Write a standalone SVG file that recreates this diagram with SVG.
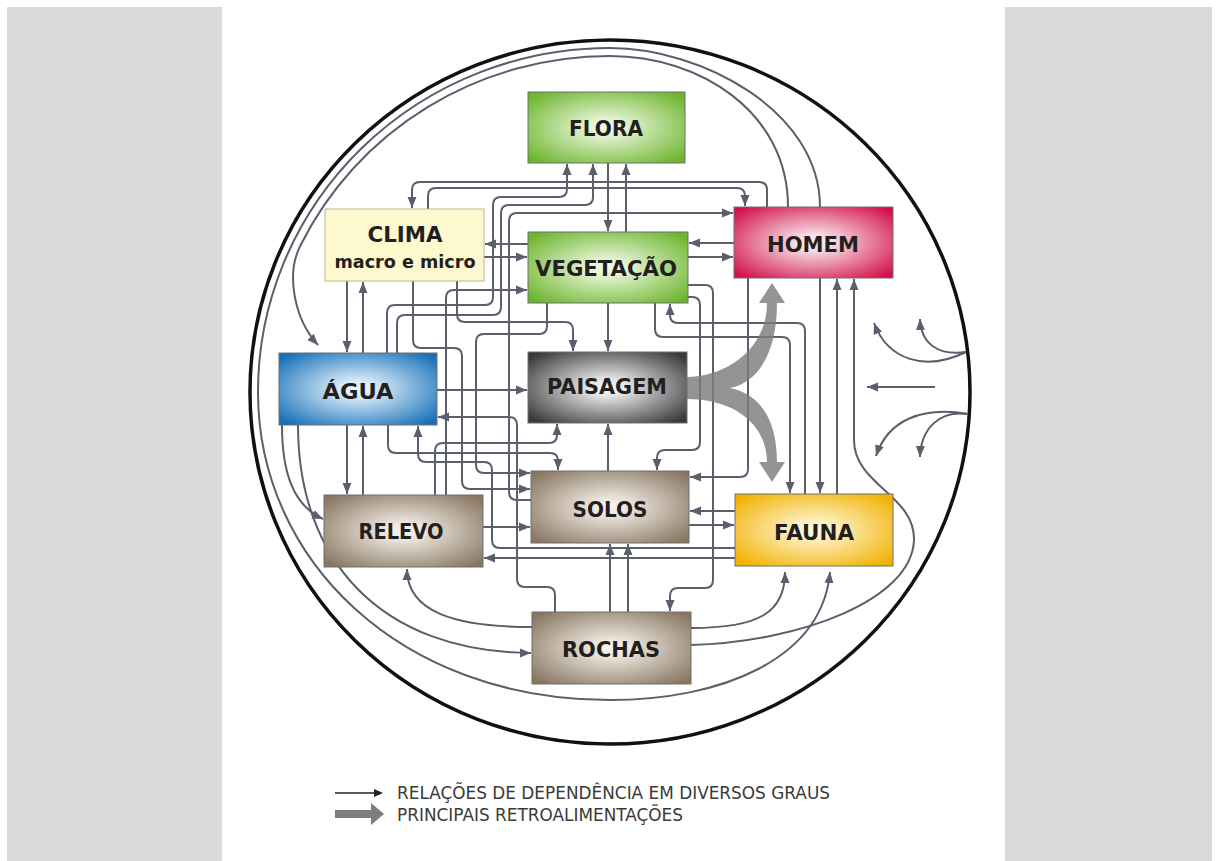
<svg xmlns="http://www.w3.org/2000/svg" width="1217" height="861" viewBox="0 0 1217 861">
<defs>
<style>
.c{fill:none;stroke:#5b5f6c;stroke-width:2;marker-end:url(#ah)}
.box{stroke:#6e6e6e;stroke-width:1}
.lbl{font-family:"DejaVu Sans","Liberation Sans",sans-serif;font-weight:bold;font-size:22px;fill:#231f20;text-anchor:middle}
.leg{font-family:"DejaVu Sans","Liberation Sans",sans-serif;font-size:17px;fill:#3a3a3a}
</style>
<marker id="ah" markerUnits="userSpaceOnUse" markerWidth="12" markerHeight="10" refX="11" refY="5" orient="auto"><path d="M0,0.5 L11,5 L0,9.5 z" fill="#5b5f6c"/></marker>
<radialGradient id="gGreen" cx="50%" cy="50%" r="65%"><stop offset="0" stop-color="#f4fbec"/><stop offset="0.18" stop-color="#e4f3d2"/><stop offset="1" stop-color="#6cb52d"/></radialGradient>
<radialGradient id="gRed" cx="50%" cy="50%" r="65%"><stop offset="0" stop-color="#fbeef2"/><stop offset="0.18" stop-color="#f6dbe3"/><stop offset="1" stop-color="#d3124b"/></radialGradient>
<radialGradient id="gBlue" cx="50%" cy="50%" r="65%"><stop offset="0" stop-color="#eef6fc"/><stop offset="0.18" stop-color="#d6eaf8"/><stop offset="1" stop-color="#1670b8"/></radialGradient>
<radialGradient id="gGray" cx="50%" cy="50%" r="65%"><stop offset="0" stop-color="#f7f7f7"/><stop offset="0.18" stop-color="#e6e6e6"/><stop offset="1" stop-color="#383838"/></radialGradient>
<radialGradient id="gTan" cx="50%" cy="50%" r="65%"><stop offset="0" stop-color="#f7f4ef"/><stop offset="0.18" stop-color="#ece6dd"/><stop offset="1" stop-color="#887762"/></radialGradient>
<radialGradient id="gYel" cx="50%" cy="50%" r="65%"><stop offset="0" stop-color="#fffbe6"/><stop offset="0.18" stop-color="#fdf1c4"/><stop offset="1" stop-color="#f1b100"/></radialGradient>
</defs>

<rect x="0" y="0" width="1217" height="861" fill="#ffffff"/>
<rect x="7" y="7" width="1205" height="854" fill="#dadada"/>
<rect x="222" y="0" width="783" height="861" fill="#ffffff"/>

<ellipse id="boundary" cx="610" cy="392" rx="360" ry="352" fill="none" stroke="#111" stroke-width="3.5"/>

<g id="connectors">
<path class="c" d="M767,207 V190 Q767,182 759,182 H420 Q412,182 412,190 V208"/>
<path class="c" d="M428,209 V196 Q428,188 436,188 H737 Q745,188 745,196 V206"/>
<path class="c" d="M608,163 V231"/>
<path class="c" d="M626,232 V164"/>
<path class="c" d="M387,353 V313 Q387,305 395,305 H485 Q493,305 493,297 V205 Q493,197 501,197 H559 Q567,197 567,189 V164"/>
<path class="c" d="M397,353 V323 Q397,315 405,315 H493 Q501,315 501,307 V213 Q501,205 509,205 H585 Q593,205 593,197 V164"/>
<path class="c" d="M531,500 H517 Q509,500 509,492 V221 Q509,213 517,213 H733"/>
<path class="c" d="M484,257 H527"/>
<path class="c" d="M528,244 H485"/>
<path class="c" d="M446,495 V298 Q446,290 454,290 H527"/>
<path class="c" d="M734,243 H689"/>
<path class="c" d="M688,257 H733"/>
<path class="c" d="M347,281 V352"/>
<path class="c" d="M363,353 V282"/>
<path class="c" d="M347,425 V494"/>
<path class="c" d="M363,495 V426"/>
<path class="c" d="M437,390 H527"/>
<path class="c" d="M457,281 V314 Q457,322 465,322 H565 Q573,322 573,330 V351"/>
<path class="c" d="M608,303 V351"/>
<path class="c" d="M547,303 V326 Q547,334 539,334 H484 Q476,334 476,342 V465 Q476,473 484,473 H530"/>
<path class="c" d="M413,281 V340 Q413,348 421,348 H454 Q462,348 462,356 V481 Q462,489 470,489 H530"/>
<path class="c" d="M388,425 V445 Q388,453 396,453 H550 Q558,453 558,461 V470"/>
<path class="c" d="M435,495 V451 Q435,443 443,443 H549 Q557,443 557,435 V424"/>
<path class="c" d="M608,471 V424"/>
<path class="c" d="M555,612 V595 Q555,587 547,587 H525 Q517,587 517,579 V425 Q517,417 509,417 H438"/>
<path class="c" d="M735,548 H500 Q492,548 492,540 V470 Q492,462 484,462 H426 Q418,462 418,454 V426"/>
<path class="c" d="M735,558 H484"/>
<path class="c" d="M483,527 H530"/>
<path class="c" d="M735,511 H690"/>
<path class="c" d="M689,525 H734"/>
<path class="c" d="M748,278 V469 Q748,477 740,477 H690"/>
<path class="c" d="M688,297 H692 Q700,297 700,305 V442 Q700,450 692,450 H665 Q657,450 657,458 V470"/>
<path class="c" d="M688,285 H705 Q713,285 713,293 V580 Q713,588 705,588 H678 Q670,588 670,596 V611"/>
<path class="c" d="M655,303 V329 Q655,337 663,337 H782 Q790,337 790,345 V493"/>
<path class="c" d="M805,494 V331 Q805,323 797,323 H678 Q670,323 670,315 V304"/>
<path class="c" d="M820,278 V493"/>
<path class="c" d="M837,494 V279"/>
<path class="c" d="M691,645 C800,642 912,600 914,540 C915,495 854,485 854,440 V279"/>
<path class="c" d="M691,628 C760,628 785,612 785,572"/>
<path class="c" d="M532,627 C455,627 407,612 407,569"/>
<path class="c" d="M610,612 V544"/>
<path class="c" d="M628,612 V544"/>
<path class="c" d="M282,425 C282,470 292,505 323,519"/>
<path class="c" d="M298,425 C298,560 380,652 531,653"/>
<path class="c" d="M820,207 C820,110 700,48 610,48 A352,344 0 0 0 258,392 C258,560 400,700 610,700 C720,700 822,660 830,572"/>
<path class="c" d="M788,207 C788,112 700,56 610,56 A344,336 0 0 0 300.7,245 C285,275 295,320 318,345"/>
<path class="c" d="M935,387 H867"/>
<path class="c" d="M966,352 C925,372 888,360 874,323"/>
<path class="c" d="M966,352 C940,356 921,345 920,319"/>
<path class="c" d="M968,414 C922,406 888,420 876,456"/>
<path class="c" d="M968,414 C940,410 921,428 920,457"/>
</g>

<g id="feedback">
<path d="M687,377 C725,377 767,350 767,303 L759,303 L772,283 L785,303 L777,303 C777,350 760,382 730,388 C760,394 777,420 777,462 L785,462 L772,482 L759,462 L767,462 C767,425 735,399 687,399 Z" fill="#7d7d7d" fill-opacity="0.82"/>
</g>

<g id="node-flora"><rect class="box" x="528" y="92" width="157" height="71" fill="url(#gGreen)"/><text class="lbl" x="606" y="136" textLength="74" lengthAdjust="spacingAndGlyphs">FLORA</text></g>
<g id="node-clima"><rect x="325" y="209" width="159" height="72" fill="#fdf8cd" stroke="#bdb68a" stroke-width="1"/><text class="lbl" x="405" y="242" font-size="21" textLength="75" lengthAdjust="spacingAndGlyphs">CLIMA</text><text class="lbl" x="405" y="268" style="font-size:17px" textLength="141" lengthAdjust="spacingAndGlyphs">macro e micro</text></g>
<g id="node-vegetacao"><rect class="box" x="528" y="232" width="160" height="71" fill="url(#gGreen)"/><text class="lbl" x="606" y="276" textLength="142" lengthAdjust="spacingAndGlyphs">VEGETAÇÃO</text></g>
<g id="node-homem"><rect class="box" x="734" y="207" width="159" height="71" fill="url(#gRed)"/><text class="lbl" x="813" y="252" textLength="92" lengthAdjust="spacingAndGlyphs">HOMEM</text></g>
<g id="node-agua"><rect class="box" x="279" y="353" width="158" height="72" fill="url(#gBlue)"/><text class="lbl" x="358" y="399" textLength="71" lengthAdjust="spacingAndGlyphs">ÁGUA</text></g>
<g id="node-paisagem"><rect class="box" x="528" y="352" width="159" height="71" fill="url(#gGray)"/><text class="lbl" x="607" y="394" textLength="120" lengthAdjust="spacingAndGlyphs">PAISAGEM</text></g>
<g id="node-solos"><rect class="box" x="531" y="471" width="158" height="72" fill="url(#gTan)"/><text class="lbl" x="610" y="517" textLength="75" lengthAdjust="spacingAndGlyphs">SOLOS</text></g>
<g id="node-relevo"><rect class="box" x="324" y="495" width="159" height="72" fill="url(#gTan)"/><text class="lbl" x="401" y="539" textLength="85" lengthAdjust="spacingAndGlyphs">RELEVO</text></g>
<g id="node-fauna"><rect class="box" x="735" y="494" width="158" height="72" fill="url(#gYel)"/><text class="lbl" x="814" y="540" textLength="80" lengthAdjust="spacingAndGlyphs">FAUNA</text></g>
<g id="node-rochas"><rect class="box" x="532" y="612" width="159" height="72" fill="url(#gTan)"/><text class="lbl" x="611" y="657" textLength="98" lengthAdjust="spacingAndGlyphs">ROCHAS</text></g>

<g id="legend">
<line x1="335" y1="793" x2="376" y2="793" stroke="#222" stroke-width="1.6"/>
<polygon points="374,789 383,793 374,797" fill="#222"/>
<line x1="335" y1="814" x2="373" y2="814" stroke="#7d7d7d" stroke-width="8"/>
<polygon points="371,803 384,814 371,825" fill="#7d7d7d"/>
<text class="leg" x="397" y="799" textLength="433" lengthAdjust="spacingAndGlyphs">RELAÇÕES DE DEPENDÊNCIA EM DIVERSOS GRAUS</text>
<text class="leg" x="397" y="821" textLength="286" lengthAdjust="spacingAndGlyphs">PRINCIPAIS RETROALIMENTAÇÕES</text>
</g>
</svg>
